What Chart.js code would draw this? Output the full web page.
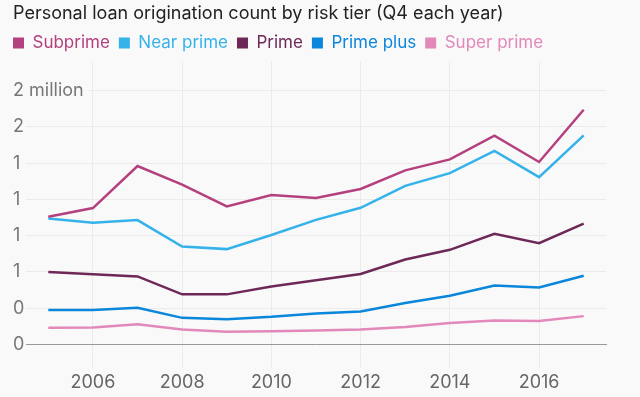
<!DOCTYPE html>
<html>
<head>
<meta charset="utf-8">
<script src="https://cdn.jsdelivr.net/npm/chart.js@4"></script>
<style>
  html, body { margin: 0; padding: 0; background: #f9f9f9; }
  #wrap { width: 640px; height: 397px; }
</style>
</head>
<body>
<div id="wrap"><canvas id="loanChart"></canvas></div>
<script>
// Q4 origination counts, millions
const years = [2005, 2006, 2007, 2008, 2009, 2010, 2011, 2012, 2013, 2014, 2015, 2016, 2017];
const subprime = [0.880, 0.940, 1.230, 1.102, 0.951, 1.030, 1.010, 1.072, 1.200, 1.276, 1.439, 1.258, 1.618];
const nearPrime = [0.868, 0.838, 0.857, 0.675, 0.657, 0.754, 0.859, 0.942, 1.093, 1.181, 1.334, 1.153, 1.441];
const prime = [0.499, 0.483, 0.469, 0.345, 0.345, 0.399, 0.443, 0.485, 0.585, 0.652, 0.763, 0.698, 0.833];
const primePlus = [0.237, 0.237, 0.253, 0.183, 0.174, 0.190, 0.213, 0.227, 0.285, 0.336, 0.406, 0.392, 0.473];
const superPrime = [0.114, 0.116, 0.139, 0.102, 0.088, 0.091, 0.095, 0.102, 0.120, 0.148, 0.164, 0.162, 0.195];

const xTicks = [2006, 2008, 2010, 2012, 2014, 2016];
const yTicks = [0, 0.25, 0.5, 0.75, 1, 1.25, 1.5, 1.75];
const yTickLabels = ['0', '0', '1', '1', '1', '1', '2', '2 million'];

const FONT = 'Inter, "Open Sans", sans-serif';
const BG = '#f9f9f9';

function series(label, values, color) {
    return {
        label: label,
        data: years.map((y, i) => ({ x: y, y: values[i] })),
        borderColor: color,
        backgroundColor: color,
        borderWidth: 2.5,
        pointRadius: 0,
        tension: 0
    };
}

// legend starts flush with the title instead of one padding in
const legendNudge = {
    id: 'legendNudge',
    afterUpdate(chart) {
        if (chart.legend) {
            chart.legend.left -= 9;
            chart.legend.right -= 9;
        }
    }
};

const ctx = document.getElementById('loanChart');

new Chart(ctx, {
    type: 'line',
    data: {
        datasets: [
            series('Subprime', subprime, '#b5407f'),
            series('Near prime', nearPrime, '#35b2ea'),
            series('Prime', prime, '#6d2858'),
            series('Prime plus', primePlus, '#0a86db'),
            series('Super prime', superPrime, '#e288ba')
        ]
    },
    plugins: [legendNudge],
    options: {
        responsive: true,
        maintainAspectRatio: false,
        animation: false,
        layout: {
            padding: { left: 13, right: 34, top: 3, bottom: 0 }
        },
        scales: {
            x: {
                type: 'linear',
                min: 2004.5,
                max: 2017.5,
                afterBuildTicks: axis => {
                    axis.ticks = xTicks.map(v => ({ value: v }));
                },
                ticks: {
                    color: '#666',
                    padding: 4,
                    font: { family: FONT, size: 18 },
                    callback: v => String(v)
                },
                grid: {
                    color: '#ebebeb',
                    tickLength: 23
                },
                border: {
                    color: '#999',
                    width: 1
                }
            },
            y: {
                min: 0,
                max: 1.95,
                afterBuildTicks: axis => {
                    axis.ticks = yTicks.map(v => ({ value: v }));
                },
                afterFit: axis => {
                    axis.width = 13;
                },
                ticks: {
                    color: '#777',
                    mirror: true,
                    padding: -13,
                    crossAlign: 'near',
                    font: { family: FONT, size: 18 },
                    callback: (v, i) => yTickLabels[i],
                    showLabelBackdrop: c => c.index === yTicks.length - 1,
                    backdropColor: BG,
                    backdropPadding: { left: 0, right: 4, top: 0, bottom: 0 }
                },
                grid: {
                    color: '#ebebeb',
                    drawTicks: false
                },
                border: { display: false }
            }
        },
        plugins: {
            title: {
                display: true,
                text: 'Personal loan origination count by risk tier (Q4 each year)',
                align: 'start',
                color: '#222',
                font: { family: FONT, size: 18, weight: 'normal' },
                padding: { top: 0, bottom: 1 }
            },
            legend: {
                display: true,
                position: 'top',
                align: 'start',
                labels: {
                    boxWidth: 11,
                    boxHeight: 11,
                    padding: 9,
                    font: { family: FONT, size: 17 },
                    generateLabels: function (chart) {
                        return chart.data.datasets.map((ds, i) => ({
                            text: ds.label,
                            fillStyle: ds.borderColor,
                            strokeStyle: ds.borderColor,
                            fontColor: ds.borderColor,
                            lineWidth: 0,
                            hidden: false,
                            datasetIndex: i
                        }));
                    }
                }
            },
            tooltip: { enabled: false }
        }
    }
});
</script>
</body>
</html>
